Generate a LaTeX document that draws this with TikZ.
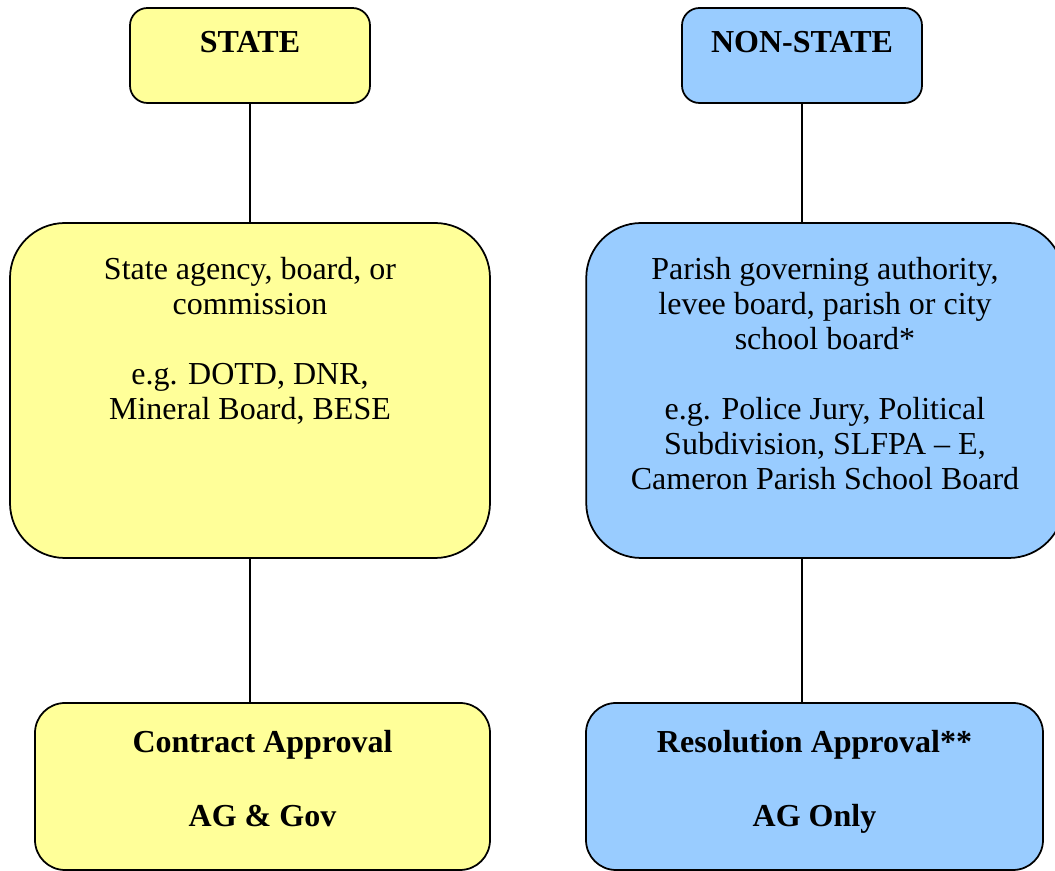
\documentclass[tikz,border=0pt]{standalone}
\usepackage{fontspec}
\setmainfont{Liberation Serif}
\usetikzlibrary{positioning}
\definecolor{stateyellow}{HTML}{FFFF99}
\definecolor{nonstateblue}{HTML}{99CCFF}

\begin{document}
\begin{tikzpicture}[x=0.4pt, y=-0.4pt,
    box/.style={draw=black, line width=0.7pt, inner sep=0pt},
    statebox/.style={box, fill=stateyellow},
    nonstatebox/.style={box, fill=nonstateblue},
    boxtext/.style={inner sep=0pt, align=center, font=\fontsize{12.8}{14}\selectfont},
    boldtext/.style={boxtext, font=\fontsize{12.8}{14}\selectfont\bfseries},
    link/.style={line width=0.8pt}]
    % canvas
    \useasboundingbox (0,0) rectangle (1055,871);
    % top row
    \node[statebox, rounded corners=7pt, minimum width=96pt, minimum height=38pt] (state) at (250,55.5) {};
    \node[nonstatebox, rounded corners=7pt, minimum width=96pt, minimum height=38pt] (nonstate) at (802,55.5) {};
    \node[boldtext, below=9.4pt of state.north] (statetxt) {STATE};
    \node[boldtext, below=9.4pt of nonstate.north] (nonstatetxt) {NON-STATE};
    % middle row
    \node[statebox, rounded corners=22pt, minimum width=192pt, minimum height=134pt] (agency) at (250,390.5) {};
    \node[nonstatebox, rounded corners=22pt, minimum width=191pt, minimum height=134pt] (parish) at (825,390.5) {};
    \node[boxtext, below=14pt of agency.north] (agencytxt)
        {State agency, board, or\\commission\\[14pt]e.g. DOTD, DNR,\\Mineral Board, BESE};
    \node[boxtext, below=14pt of parish.north] (parishtxt)
        {Parish governing authority,\\levee board, parish or city\\school board*\\[14pt]e.g. Police Jury, Political\\Subdivision, SLFPA -- E,\\Cameron Parish School Board};
    % bottom row
    \node[statebox, rounded corners=12pt, minimum width=182pt, minimum height=66.8pt] (contract) at (262.5,786.5) {};
    \node[nonstatebox, rounded corners=12pt, minimum width=182.8pt, minimum height=66.8pt] (resolution) at (814.5,786.5) {};
    \node[boldtext, below=11pt of contract.north] (contracttxt)
        {Contract Approval\\[15.6pt]AG \& Gov};
    \node[boldtext, below=11pt of resolution.north] (resolutiontxt)
        {Resolution Approval**\\[15.6pt]AG Only};
    % connectors
    \draw[link] (state.south) -- (agency.north);
    \draw[link] (agency.south) -- (contract.north -| agency.south);
    \draw[link] (nonstate.south) -- (parish.north -| nonstate.south);
    \draw[link] (parish.south -| nonstate.south) -- (resolution.north -| nonstate.south);
\end{tikzpicture}
\end{document}
